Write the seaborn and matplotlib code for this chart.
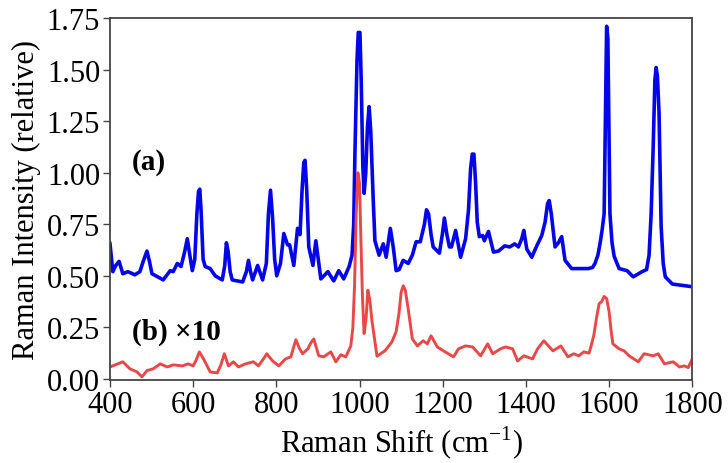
import numpy as np
import pandas as pd
import seaborn as sns
import matplotlib.pyplot as plt

# Spectrum (a)
shift_a = [400, 407, 414, 422, 431, 443, 460, 472, 480, 489, 495, 501, 515, 528, 545, 552, 562, 571, 580,
           586, 592, 598, 604, 609, 613, 616, 619, 624, 629, 641, 653, 670, 676, 680, 684, 689, 694,
           707, 719, 728, 733, 738, 743, 755, 767, 776, 781, 786, 791, 796, 801, 810, 818, 827, 832,
           842, 851, 857, 862, 866, 869, 873, 878, 888, 895, 907, 924, 938, 950, 962, 975, 982, 986,
           989, 994, 997, 1001, 1004, 1008, 1011, 1015, 1019, 1023, 1027, 1033, 1037, 1047, 1057,
           1064, 1074, 1081, 1088, 1095, 1105, 1117, 1127, 1136, 1146, 1156, 1161, 1166, 1172, 1177,
           1192, 1199, 1204, 1210, 1216, 1221, 1231, 1243, 1255, 1262, 1267, 1271, 1275, 1279, 1283,
           1288, 1296, 1300, 1310, 1322, 1334, 1349, 1361, 1373, 1382, 1390, 1395, 1402, 1414, 1426,
           1438, 1446, 1452, 1456, 1461, 1470, 1478, 1486, 1494, 1510, 1550, 1560, 1566, 1573, 1578,
           1583, 1588, 1591, 1594, 1597, 1602, 1607, 1612, 1624, 1643, 1658, 1679, 1690, 1696, 1701,
           1706, 1710, 1713, 1716, 1720, 1725, 1730, 1735, 1752, 1800]
int_a = [0.66, 0.52, 0.55, 0.57, 0.51, 0.52, 0.505, 0.52, 0.57, 0.62, 0.57, 0.51, 0.495, 0.48, 0.525, 0.52, 0.56, 0.545, 0.62,
         0.68, 0.60, 0.525, 0.58, 0.80, 0.91, 0.92, 0.82, 0.58, 0.545, 0.535, 0.50, 0.48, 0.55, 0.66, 0.62, 0.52, 0.48,
         0.475, 0.47, 0.52, 0.575, 0.52, 0.48, 0.55, 0.48, 0.56, 0.80, 0.915, 0.78, 0.58, 0.50, 0.56, 0.705, 0.65, 0.65,
         0.55, 0.73, 0.70, 0.92, 1.05, 1.06, 0.92, 0.64, 0.55, 0.67, 0.485, 0.52, 0.475, 0.525, 0.485, 0.545, 0.60, 0.75,
         1.10, 1.55, 1.68, 1.68, 1.45, 1.03, 0.90, 1.00, 1.22, 1.32, 1.20, 0.865, 0.67, 0.60, 0.655,
         0.59, 0.73, 0.64, 0.525, 0.53, 0.575, 0.56, 0.60, 0.665, 0.665, 0.75, 0.82, 0.80, 0.70, 0.64,
         0.61, 0.70, 0.78, 0.70, 0.64, 0.64, 0.72, 0.59, 0.68, 0.82, 1.02, 1.09, 1.09, 0.95, 0.76,
         0.69, 0.695, 0.67, 0.715, 0.615, 0.62, 0.645, 0.64, 0.655, 0.64, 0.68, 0.72, 0.63, 0.59, 0.645,
         0.695, 0.76, 0.85, 0.865, 0.80, 0.64, 0.66, 0.69, 0.575, 0.535, 0.535, 0.54, 0.56, 0.60, 0.655,
         0.72, 0.80, 1.25, 1.71, 1.65, 0.80, 0.66, 0.595, 0.535, 0.525, 0.495, 0.52, 0.53, 0.60, 0.80,
         1.13, 1.45, 1.51, 1.47, 1.29, 0.74, 0.56, 0.495, 0.46, 0.447]

# Spectrum (b) x10
shift_b = [400, 419, 431, 448, 465, 477, 489, 504, 521, 538, 552, 574, 588, 600, 607, 615, 625, 641, 658,
           667, 675, 685, 697, 709, 726, 745, 757, 770, 777, 791, 806, 822, 835, 841, 847, 855, 863, 876,
           883, 890, 902, 914, 931, 943, 955, 967, 979, 984, 988, 992, 996, 1000, 1003, 1007, 1011, 1016,
           1020, 1025, 1030, 1042, 1061, 1078, 1088, 1095, 1100, 1105, 1110, 1117, 1127, 1139, 1153, 1163,
           1172, 1187, 1206, 1226, 1238, 1255, 1272, 1291, 1308, 1320, 1339, 1351, 1368, 1380, 1395, 1416,
           1428, 1443, 1465, 1484, 1501, 1515, 1527, 1539, 1552, 1563, 1570, 1576, 1582, 1588, 1594, 1600,
           1605, 1609, 1624, 1636, 1648, 1670, 1684, 1706, 1718, 1733, 1754, 1769, 1781, 1790, 1800]
int_b = [0.058, 0.073, 0.083, 0.049, 0.034, 0.010, 0.040, 0.049, 0.073, 0.058, 0.068, 0.063, 0.073, 0.063, 0.090, 0.131, 0.097, 0.034, 0.029,
         0.070, 0.122, 0.063, 0.083, 0.058, 0.073, 0.083, 0.063, 0.100, 0.122, 0.087, 0.063, 0.097, 0.107, 0.150, 0.190, 0.150, 0.122, 0.146,
         0.175, 0.194, 0.112, 0.107, 0.131, 0.083, 0.117, 0.107, 0.160, 0.250, 0.450, 0.800, 1.000, 0.950, 0.700, 0.400, 0.220, 0.300,
         0.430, 0.380, 0.280, 0.110, 0.136, 0.180, 0.230, 0.320, 0.420, 0.452, 0.430, 0.340, 0.194, 0.160, 0.185, 0.170,
         0.209, 0.155, 0.131, 0.107, 0.146, 0.160, 0.155, 0.112, 0.170, 0.122, 0.146, 0.155, 0.146, 0.087, 0.112, 0.097,
         0.146, 0.185, 0.136, 0.160, 0.107, 0.122, 0.112, 0.131, 0.125, 0.209, 0.300, 0.365, 0.375, 0.400, 0.390, 0.325,
         0.230, 0.170, 0.146, 0.136, 0.112, 0.083, 0.122, 0.112, 0.122, 0.073, 0.083, 0.058, 0.063, 0.055, 0.097]

x_ticks = [400, 600, 800, 1000, 1200, 1400, 1600, 1800]
y_ticks = [0.00, 0.25, 0.50, 0.75, 1.00, 1.25, 1.50, 1.75]

df_a = pd.DataFrame({'shift': shift_a, 'intensity': int_a})
df_b = pd.DataFrame({'shift': shift_b, 'intensity': int_b})

sns.set_style('ticks')
plt.rcParams['font.family'] = ['Liberation Serif', 'DejaVu Serif']
plt.rcParams['mathtext.fontset'] = 'custom'
plt.rcParams['mathtext.rm'] = 'Liberation Serif'
plt.rcParams['text.color'] = 'black'
plt.rcParams['axes.labelcolor'] = 'black'
plt.rcParams['xtick.labelcolor'] = 'black'
plt.rcParams['ytick.labelcolor'] = 'black'

fig = plt.figure(figsize=(7.28, 4.64), dpi=100)
ax = fig.add_axes([0.151, 0.179, 0.80, 0.78])

sns.lineplot(data=df_a, x='shift', y='intensity', ax=ax, color='#0505ea', linewidth=2.6,
             estimator=None, sort=False, solid_joinstyle='round')
sns.lineplot(data=df_b, x='shift', y='intensity', ax=ax, color='#e84848', linewidth=2.1,
             estimator=None, sort=False, solid_joinstyle='round')

ax.set_xlim(400, 1800)
ax.set_ylim(-0.005, 1.75)
ax.set_xticks(x_ticks)
ax.set_yticks(y_ticks)
ax.set_yticklabels([f'{v:.2f}' for v in y_ticks])
ax.tick_params(labelsize=22, length=5, width=1, color='#444444', pad=2)
for s in ax.spines.values():
    s.set_visible(True)
    s.set_color('#444444')
    s.set_linewidth(1.3)

ax.set_xlabel('Raman Shift (cm$^{\\mathrm{-1}}$)', fontsize=22, labelpad=4)
ax.set_ylabel('Raman Intensity (relative)', fontsize=22, labelpad=4)

ax.text(453, 1.055, '(a)', fontsize=21, fontweight='bold', va='center', ha='left')
ax.text(453, 0.233, '(b) \u00d710', fontsize=21, fontweight='bold', va='center', ha='left')

plt.savefig('out.png', dpi=100)
